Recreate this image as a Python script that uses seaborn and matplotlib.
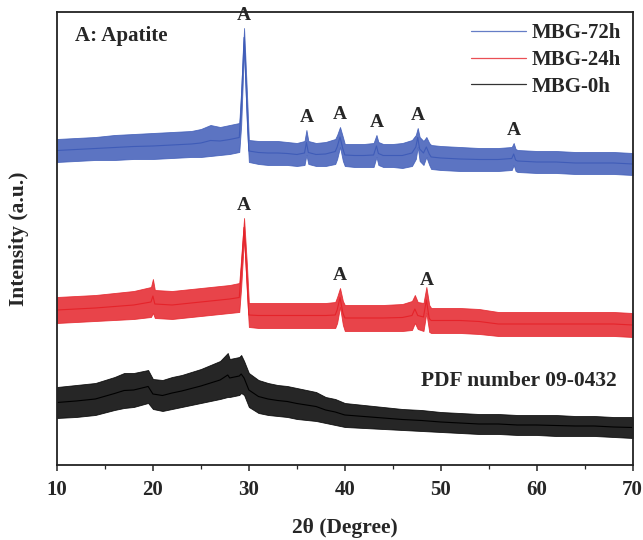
import numpy as np
import pandas as pd
import matplotlib
matplotlib.use("Agg")
import matplotlib.pyplot as plt
from matplotlib.ticker import MultipleLocator
import seaborn as sns

# XRD envelopes (lower / upper edge of the noisy trace), 2theta in degrees
blue_x = [10, 12, 14, 16, 18, 20, 22, 24, 25, 26, 27, 28, 29, 29.2, 29.5, 29.8, 30, 31, 32, 33, 34, 35,
          35.8, 36.0, 36.2, 37, 38, 39, 39.2, 39.5, 39.8, 40, 41, 42, 43, 43.3, 43.5, 44, 45, 46, 47,
          47.4, 47.6, 47.8, 48.2, 48.5, 48.8, 49, 50, 52, 54, 56, 57.4, 57.6, 57.8, 58, 60, 62, 64, 66, 68, 70]
blue_low = [303, 304, 305, 305, 306, 306, 307, 308, 308, 309, 310, 311, 313, 340, 418, 340, 303, 301, 300, 300, 300, 299,
            300, 310, 301, 299, 299, 301, 306, 318, 304, 299, 298, 298, 298, 308, 300, 298, 298, 297, 299,
            306, 318, 304, 300, 308, 300, 296, 295, 294, 294, 294, 295, 300, 294, 293, 292, 292, 291, 291, 291, 290]
blue_high = [326, 327, 328, 330, 331, 332, 333, 334, 336, 340, 338, 340, 342, 375, 437, 372, 325, 324, 324, 324, 323, 322,
             324, 335, 324, 322, 323, 326, 330, 338, 328, 321, 321, 321, 322, 330, 323, 321, 321, 322, 325,
             330, 337, 328, 324, 328, 322, 320, 319, 318, 317, 317, 318, 322, 316, 315, 314, 314, 313, 313, 313, 312]

red_x = [10, 12, 14, 16, 18, 19.8, 20, 20.2, 22, 24, 26, 28, 29, 29.2, 29.5, 29.8, 30, 31, 32, 33, 34, 35,
         36, 37, 38, 39, 39.2, 39.5, 39.8, 40, 42, 44, 46, 47, 47.3, 47.6, 48.2, 48.5, 48.8, 49, 50, 52,
         54, 56, 58, 60, 62, 64, 66, 68, 70]
red_low = [142, 143, 144, 145, 146, 148, 152, 147, 146, 148, 150, 152, 153, 178, 228, 172, 138, 137, 137, 137, 137, 137,
           137, 137, 137, 137, 142, 158, 140, 134, 134, 134, 134, 135, 142, 136, 134, 152, 133, 132, 132, 132,
           131, 129, 129, 129, 129, 129, 129, 129, 128]
red_high = [168, 169, 170, 172, 174, 178, 186, 175, 174, 176, 178, 180, 182, 207, 247, 200, 162, 162, 162, 162, 162, 162,
            162, 162, 162, 163, 168, 177, 164, 160, 160, 160, 161, 164, 170, 163, 162, 178, 160, 157, 157, 157,
            156, 153, 153, 153, 153, 153, 153, 153, 152]

black_x = [10, 12, 14, 16, 17, 18, 19.5, 20, 21, 22, 23, 24, 25, 26, 27, 27.8, 28, 29, 29.2, 29.5, 30, 31,
           32, 33, 34, 35, 36, 37, 38, 39, 40, 42, 44, 46, 48, 50, 52, 54, 56, 58, 60, 62, 64, 66, 68, 70]
black_low = [47, 48, 50, 55, 57, 58, 62, 56, 54, 56, 58, 60, 62, 64, 66, 68, 68, 70, 72, 70, 58, 52,
             50, 49, 48, 46, 45, 44, 42, 40, 38, 37, 36, 35, 34, 33, 32, 31, 31, 30, 30, 29, 29, 29, 28, 27]
black_high = [78, 80, 82, 88, 92, 92, 95, 86, 85, 88, 90, 93, 96, 100, 104, 112, 106, 108, 110, 104, 92, 85,
              82, 80, 79, 77, 75, 73, 68, 66, 62, 60, 58, 56, 55, 53, 52, 51, 51, 50, 50, 50, 49, 49, 48, 48]

series_names = ["MBG-72h", "MBG-24h", "MBG-0h"]
series_colors = ["#3f5cb8", "#e5232a", "#000000"]

# apatite reflections marked with "A"
blue_peaks = [29.5, 36.0, 39.5, 43.3, 47.6, 57.6]
red_peaks = [29.5, 39.5, 48.6]

sns.set_style("ticks")
plt.rcParams["font.family"] = ["Liberation Serif", "DejaVu Serif"]
plt.rcParams["font.weight"] = "bold"
plt.rcParams["axes.labelweight"] = "bold"

curves = {
    "MBG-72h": (blue_x, blue_low, blue_high),
    "MBG-24h": (red_x, red_low, red_high),
    "MBG-0h": (black_x, black_low, black_high),
}

rows = []
for name, (xs, lo, hi) in curves.items():
    for x, a, b in zip(xs, lo, hi):
        rows.append({"two_theta": x, "mid": (a + b) / 2, "sample": name})
df = pd.DataFrame(rows)

fig = plt.figure(figsize=(6.43, 5.40), dpi=100)
ax = fig.add_axes([0.0886, 0.1389, 0.8953, 0.8389])

palette = dict(zip(series_names, series_colors))
sns.lineplot(data=df, x="two_theta", y="mid", hue="sample", hue_order=series_names,
             palette=palette, linewidth=0.8, ax=ax, sort=True)

for name, color in palette.items():
    xs, lo, hi = curves[name]
    ax.fill_between(xs, lo, hi, color=color, linewidth=0.6, edgecolor=color, alpha=0.85)

def top_at(xs, hi, px):
    return np.interp(px, xs, hi)

for px in blue_peaks:
    ax.text(px, top_at(blue_x, blue_high, px) + 4, "A", ha="center", va="bottom",
            fontsize=14, fontweight="bold")
for px in red_peaks:
    ax.text(px, top_at(red_x, red_high, px) + 4, "A", ha="center", va="bottom",
            fontsize=14, fontweight="bold")

ax.text(0.032, 0.948, "A: Apatite", transform=ax.transAxes, ha="left", va="center",
        fontsize=15, fontweight="bold")
ax.text(0.973, 0.185, "PDF number 09-0432", transform=ax.transAxes, ha="right", va="center",
        fontsize=15.5, fontweight="bold")

ax.set_xlim(10, 70)
ax.set_ylim(0, 453)
ax.set_xticks(range(10, 71, 10))
ax.xaxis.set_minor_locator(MultipleLocator(5))
ax.set_yticks([])
ax.tick_params(axis="x", which="major", direction="out", length=4.5, width=1.1, labelsize=15, pad=6)
ax.tick_params(axis="x", which="minor", direction="out", length=3, width=0.9)
for lab in ax.get_xticklabels():
    lab.set_fontweight("bold")
for sp in ax.spines.values():
    sp.set_linewidth(1.3)
    sp.set_color("#222222")

ax.set_xlabel("2θ (Degree)", fontsize=15.5, fontweight="bold", labelpad=13)
ax.set_ylabel("Intensity (a.u.)", fontsize=15.5, fontweight="bold", labelpad=20)

leg = ax.legend(loc="upper right", frameon=False, fontsize=15, handlelength=2.6,
                handletextpad=0.3, labelspacing=0.32, borderaxespad=0.15)
for line in leg.get_lines():
    line.set_linewidth(0.9)
    line.set_alpha(0.8)
for t in leg.get_texts():
    t.set_fontweight("bold")

fig.savefig("out.png", dpi=100)
